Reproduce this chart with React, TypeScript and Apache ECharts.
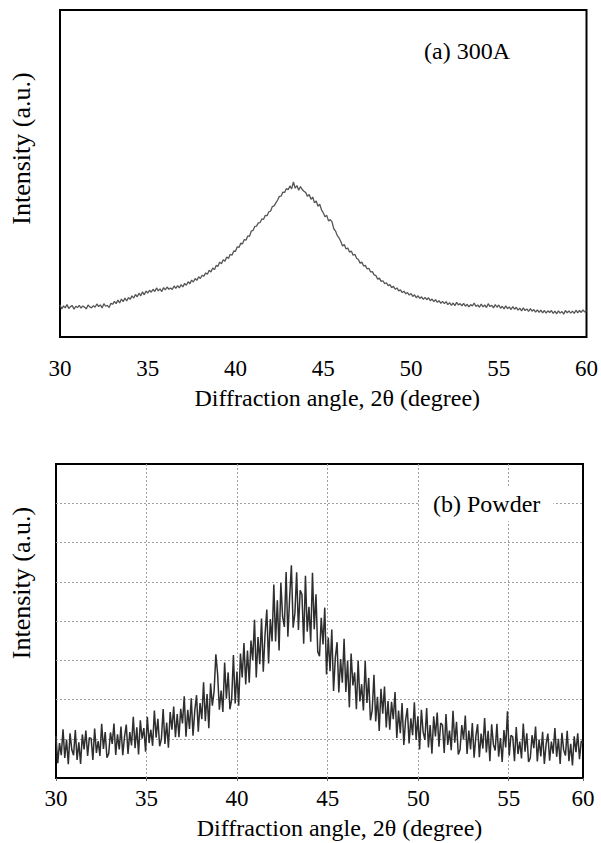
import { useEffect, useRef } from 'react';
import * as echarts from 'echarts';

// ---- Data ----
const X_TICKS = [30, 35, 40, 45, 50, 55, 60];

// (a) 300A: intensity sampled every 0.1 degree from 30 to 60 (arbitrary units, 0-100 axis)
const TOP_START = 30;
const TOP_STEP = 0.1;
const topIntensity = [
  9.8, 8.6, 9.5, 8.9, 9.9, 8.7, 9.3, 9.6, 8.5, 9.4,
  9.0, 9.7, 8.8, 9.5, 9.1, 8.6, 9.8, 9.2, 8.9, 9.6,
  9.1, 10.1, 9.3, 9.8, 8.9, 10.2, 9.4, 9.7, 9.0, 10.3,
  10.0, 10.9, 10.2, 11.3, 10.4, 11.6, 10.8, 11.9, 11.0, 12.1,
  11.5, 12.6, 11.9, 13.0, 12.3, 13.4, 12.6, 13.8, 12.9, 14.1,
  13.4, 14.3, 13.7, 14.6, 13.9, 15.0, 14.1, 14.7, 13.9, 15.1,
  14.4, 15.3, 14.6, 15.0, 14.5, 15.6, 14.9, 15.7, 15.0, 16.0,
  15.3, 16.4, 15.8, 16.9, 16.3, 17.4, 16.8, 17.9, 17.3, 18.4,
  17.9, 18.9, 18.6, 19.6, 19.2, 20.4, 19.9, 21.1, 20.6, 21.9,
  21.6, 22.9, 22.4, 23.6, 23.2, 24.5, 24.0, 25.3, 25.0, 26.3,
  26.2, 27.6, 27.4, 28.7, 28.5, 29.8, 29.6, 30.9, 30.8, 32.4,
  32.6, 33.8, 33.9, 34.9, 35.0, 36.1, 36.0, 37.2, 37.1, 38.3,
  38.5, 39.9, 40.1, 41.0, 41.9, 43.0, 43.1, 44.3, 44.2, 45.4,
  45.0, 46.2, 45.3, 47.4, 45.5, 46.3, 44.9, 46.0, 45.1, 44.6,
  44.2, 43.0, 43.6, 42.1, 42.8, 41.0, 41.6, 40.0, 40.6, 38.9,
  38.0, 36.8, 37.2, 35.5, 35.9, 35.2, 33.1, 32.4, 31.0, 30.3,
  29.2, 27.8, 28.3, 26.9, 27.2, 25.9, 26.3, 25.0, 25.3, 24.1,
  23.7, 22.6, 22.9, 21.7, 21.9, 20.8, 21.0, 19.9, 20.0, 19.0,
  18.8, 17.7, 18.0, 17.0, 17.2, 16.3, 16.6, 15.7, 16.0, 15.1,
  15.5, 14.6, 15.0, 14.1, 14.4, 13.6, 14.0, 13.2, 13.6, 12.8,
  13.3, 12.4, 12.9, 12.0, 12.6, 11.8, 12.3, 11.5, 12.1, 11.4,
  12.0, 11.1, 11.6, 10.8, 11.4, 10.6, 11.1, 10.3, 10.9, 10.2,
  10.8, 9.9, 10.5, 9.7, 10.4, 9.6, 10.6, 9.8, 10.2, 9.5,
  10.3, 9.4, 10.0, 9.2, 9.9, 9.5, 10.4, 9.3, 9.8, 9.1,
  10.1, 9.2, 9.8, 9.0, 10.2, 9.3, 9.7, 8.9, 9.9, 9.1,
  9.8, 8.8, 9.4, 8.6, 9.5, 8.7, 9.2, 8.4, 9.3, 8.5,
  9.1, 8.2, 8.8, 8.0, 8.9, 8.1, 8.6, 7.8, 8.7, 7.9,
  8.4, 7.6, 8.3, 7.5, 8.2, 7.4, 8.1, 7.3, 8.0, 7.5,
  8.1, 7.2, 7.9, 7.1, 8.0, 7.3, 7.8, 7.0, 8.1, 7.4,
  8.0, 7.3, 7.9, 7.2, 8.2, 7.4, 8.1, 7.5, 8.3, 7.6,
  8.1,
];

// (b) Powder: intensity sampled every 0.097 degree from 30 (plot frame ends near 59.1)
const BOTTOM_START = 30;
const BOTTOM_STEP = 0.097;
const BOTTOM_MAX = 59.1;
const powderIntensity = [
  10.7, 3.8, 8.9, 5.8, 12.4, 5.1, 9.8, 3.5, 11.4, 7.2,
  5.8, 12.2, 4.6, 9.1, 3.6, 11.1, 7.3, 12.1, 5.6, 10.3,
  10.1, 4.6, 12.6, 6.4, 9.4, 5.6, 13.8, 7.4, 11.7, 5.2,
  6.2, 11.6, 8.7, 13.9, 5.9, 11.1, 7.3, 13.1, 5.8, 10.5,
  13.6, 6.1, 11.7, 8.3, 15.6, 7.6, 12.9, 6.0, 14.7, 10.0,
  12.7, 6.7, 15.6, 8.9, 12.3, 8.2, 17.2, 10.3, 15.1, 8.1,
  9.9, 17.6, 8.7, 14.1, 7.7, 16.8, 12.3, 18.2, 10.4, 16.3,
  10.4, 17.6, 13.9, 20.8, 10.5, 17.4, 12.5, 20.3, 10.8, 17.1,
  21.1, 11.8, 19.1, 15.0, 24.4, 14.5, 21.4, 12.7, 24.1, 18.4,
  22.1, 31.5, 26.5, 17.4, 22.3, 16.8, 29.4, 20.2, 26.9, 17.5,
  20.0, 31.3, 19.0, 27.1, 18.4, 31.7, 25.6, 34.4, 23.8, 32.5,
  24.3, 35.0, 30.0, 40.3, 25.6, 35.9, 29.0, 40.6, 27.1, 36.6,
  42.9, 29.2, 40.5, 34.8, 49.3, 34.8, 45.3, 32.5, 49.7, 41.1,
  38.5, 52.5, 36.0, 45.9, 54.2, 38.3, 42.0, 52.4, 37.7, 47.8,
  46.8, 34.2, 51.5, 37.3, 43.6, 34.7, 52.3, 37.9, 46.8, 32.2,
  31.0, 40.8, 34.0, 43.4, 26.4, 35.8, 27.2, 37.8, 22.2, 30.6,
  34.6, 21.8, 30.3, 24.3, 35.5, 21.9, 29.9, 18.0, 31.7, 23.6,
  26.9, 17.5, 29.9, 19.5, 23.9, 17.2, 29.8, 19.1, 25.5, 14.7,
  17.2, 26.3, 14.4, 20.7, 12.0, 22.7, 16.4, 23.3, 12.9, 19.6,
  12.3, 19.4, 15.0, 21.9, 10.2, 17.2, 11.4, 19.1, 8.4, 14.7,
  17.8, 8.8, 15.2, 10.9, 19.3, 9.7, 15.7, 7.3, 17.4, 11.7,
  9.7, 17.8, 7.8, 13.5, 6.2, 15.7, 10.6, 16.7, 8.0, 14.0,
  13.5, 6.4, 16.3, 8.4, 12.1, 7.1, 17.1, 9.0, 14.3, 6.0,
  7.2, 13.5, 9.8, 15.9, 6.1, 12.1, 7.3, 14.0, 5.2, 10.6,
  13.7, 5.3, 11.3, 7.5, 15.3, 6.5, 12.0, 4.3, 13.7, 8.5,
  7.0, 13.8, 5.4, 10.2, 4.1, 12.2, 7.8, 17.0, 5.7, 10.9,
  10.5, 4.3, 13.0, 6.1, 9.3, 5.0, 13.9, 6.7, 11.4, 4.1,
  5.1, 10.9, 7.6, 13.1, 4.2, 9.8, 5.5, 11.8, 3.6, 8.6,
  11.3, 4.4, 9.3, 6.2, 12.7, 5.4, 10.0, 3.6, 11.5, 7.1,
  5.7, 12.0, 4.3, 8.7, 3.2, 10.6, 6.6, 11.4, 4.8, 9.4,
  8.9,
];

const X_TITLE = 'Diffraction angle, 2θ (degree)';
const Y_TITLE = 'Intensity (a.u.)';
const LABEL_A = '(a) 300A';
const LABEL_B = '(b) Powder';

const FONT = "'Liberation Serif', 'Times New Roman', Times, serif";

export default function App() {
  const ref = useRef<HTMLDivElement>(null);

  useEffect(() => {
    document.body.style.margin = '0';
    if (!ref.current) return;
    const chart = echarts.init(ref.current, undefined, { renderer: 'svg' });

    const topData = topIntensity
      .map((v, i) => [TOP_START + i * TOP_STEP, v])
      .filter((p) => p[0] <= 60.0001);
    const bottomData = powderIntensity
      .map((v, i) => [BOTTOM_START + i * BOTTOM_STEP, v])
      .filter((p) => p[0] <= BOTTOM_MAX + 0.0001);

    const labelStyle = { fontSize: 23, fontFamily: FONT, color: '#000' };
    const nameStyle = { fontSize: 24, fontFamily: FONT, color: '#000' };
    const yNameStyle = { fontSize: 26, fontFamily: FONT, color: '#000' };
    const dotted = { color: '#a0a0a0', type: [2, 2], width: 1 };

    chart.setOption({
      animation: false,
      backgroundColor: '#fff',
      textStyle: { fontFamily: FONT },
      title: [
        {
          text: LABEL_A,
          left: 424,
          top: 39,
          padding: 0,
          textStyle: { ...nameStyle, fontWeight: 'normal' },
        },
        {
          text: LABEL_B,
          left: 420,
          top: 487,
          padding: [5, 13, 5, 13],
          backgroundColor: '#fff',
          textStyle: { ...nameStyle, fontWeight: 'normal' },
        },
      ],
      grid: [
        { left: 60, top: 10, width: 528, height: 327, show: true, borderColor: '#000', borderWidth: 2 },
        { left: 53, top: 464, width: 530, height: 314, show: true, borderColor: '#000', borderWidth: 2 },
      ],
      xAxis: [
        {
          gridIndex: 0,
          type: 'value',
          min: X_TICKS[0],
          max: X_TICKS[X_TICKS.length - 1],
          interval: 5,
          axisLine: { show: false },
          axisTick: { show: false },
          splitLine: { show: false },
          axisLabel: { ...labelStyle, margin: 20 },
          name: X_TITLE,
          nameLocation: 'middle',
          nameGap: 49,
          nameTextStyle: { ...nameStyle, padding: [0, 0, 0, 28] },
        },
        {
          gridIndex: 1,
          type: 'value',
          min: X_TICKS[0],
          max: BOTTOM_MAX,
          interval: 5,
          axisLine: { show: false },
          axisTick: { show: true, length: 3, lineStyle: { color: '#666' } },
          splitLine: { show: true, showMinLine: false, showMaxLine: false, lineStyle: dotted },
          axisLabel: {
            ...labelStyle,
            margin: 9,
            showMaxLabel: true,
            formatter: (v: number) => (v > 58 ? String(X_TICKS[X_TICKS.length - 1]) : String(v)),
          },
          name: X_TITLE,
          nameLocation: 'middle',
          nameGap: 38,
          nameTextStyle: { ...nameStyle, padding: [0, 0, 0, 40] },
        },
      ],
      yAxis: [
        {
          gridIndex: 0,
          type: 'value',
          min: 0,
          max: 100,
          axisLine: { show: false },
          axisTick: { show: false },
          axisLabel: { show: false },
          splitLine: { show: false },
          name: Y_TITLE,
          nameLocation: 'middle',
          nameGap: 26,
          nameTextStyle: { ...yNameStyle, padding: [0, 0, 0, 50] },
        },
        {
          gridIndex: 1,
          type: 'value',
          min: 0,
          max: 80,
          interval: 10,
          axisLine: { show: false },
          axisTick: { show: false },
          axisLabel: { show: false },
          splitLine: { show: true, showMinLine: false, showMaxLine: false, lineStyle: dotted },
          name: Y_TITLE,
          nameLocation: 'middle',
          nameGap: 22,
          nameTextStyle: { ...yNameStyle, padding: [0, 0, 0, 76] },
        },
      ],
      series: [
        {
          type: 'line',
          xAxisIndex: 0,
          yAxisIndex: 0,
          data: topData,
          symbol: 'none',
          lineStyle: { color: '#555', width: 1.3 },
          silent: true,
        },
        {
          type: 'line',
          xAxisIndex: 1,
          yAxisIndex: 1,
          data: bottomData,
          symbol: 'none',
          lineStyle: { color: '#2e2e2e', width: 1.5 },
          silent: true,
        },
      ],
    });

    return () => chart.dispose();
  }, []);

  return (
    <div
      ref={ref}
      style={{ position: 'absolute', left: 0, top: 0, width: 601, height: 843 }}
    />
  );
}
